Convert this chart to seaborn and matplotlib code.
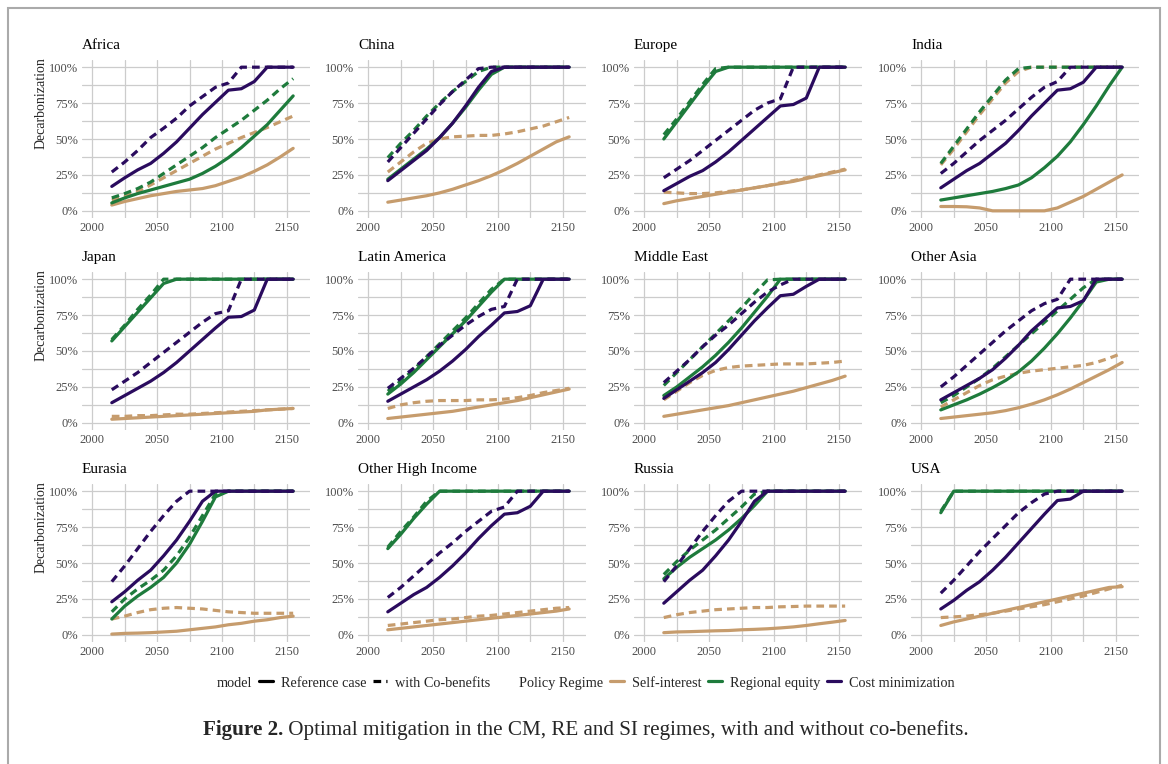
import matplotlib
matplotlib.use("Agg")
import matplotlib.pyplot as plt
from matplotlib.lines import Line2D
from matplotlib.patches import Rectangle
from matplotlib.ticker import PercentFormatter
import pandas as pd
import seaborn as sns

# ------------------------------------------------------------
# data, one value per decade 2015..2155
# ------------------------------------------------------------
YEARS = [2015, 2025, 2035, 2045, 2055, 2065, 2075, 2085, 2095, 2105, 2115, 2125, 2135, 2145, 2155]

REGIONS = ["Africa", "China", "Europe", "India",
           "Japan", "Latin America", "Middle East", "Other Asia",
           "Eurasia", "Other High Income", "Russia", "USA"]
REGIMES = ["Self-interest", "Regional equity", "Cost minimization"]
MODELS = ["Reference case", "with Co-benefits"]

# Africa
africa_si = [0.04, 0.065, 0.085, 0.105, 0.12, 0.135, 0.145, 0.155, 0.175, 0.205, 0.235, 0.275, 0.32, 0.375, 0.435]
africa_si_co = [0.075, 0.10, 0.135, 0.18, 0.23, 0.28, 0.33, 0.38, 0.43, 0.47, 0.51, 0.545, 0.58, 0.62, 0.66]
africa_re = [0.055, 0.09, 0.12, 0.145, 0.17, 0.195, 0.22, 0.26, 0.31, 0.37, 0.44, 0.52, 0.60, 0.70, 0.80]
africa_re_co = [0.09, 0.12, 0.155, 0.20, 0.26, 0.32, 0.38, 0.44, 0.51, 0.57, 0.63, 0.70, 0.77, 0.85, 0.92]
africa_cm = [0.17, 0.23, 0.285, 0.33, 0.40, 0.48, 0.575, 0.67, 0.755, 0.84, 0.85, 0.90, 1.0, 1.0, 1.0]
africa_cm_co = [0.27, 0.34, 0.42, 0.51, 0.575, 0.645, 0.73, 0.795, 0.86, 0.89, 1.0, 1.0, 1.0, 1.0, 1.0]

# China
china_si = [0.06, 0.075, 0.09, 0.105, 0.125, 0.15, 0.18, 0.21, 0.245, 0.285, 0.33, 0.38, 0.43, 0.48, 0.515]
china_si_co = [0.27, 0.34, 0.41, 0.47, 0.50, 0.515, 0.52, 0.525, 0.525, 0.535, 0.55, 0.57, 0.59, 0.62, 0.65]
china_re = [0.22, 0.29, 0.36, 0.43, 0.51, 0.61, 0.72, 0.84, 0.95, 1.0, 1.0, 1.0, 1.0, 1.0, 1.0]
china_re_co = [0.37, 0.47, 0.56, 0.66, 0.75, 0.83, 0.90, 0.97, 1.0, 1.0, 1.0, 1.0, 1.0, 1.0, 1.0]
china_cm = [0.21, 0.28, 0.35, 0.42, 0.51, 0.61, 0.73, 0.86, 0.97, 1.0, 1.0, 1.0, 1.0, 1.0, 1.0]
china_cm_co = [0.34, 0.44, 0.54, 0.64, 0.74, 0.83, 0.91, 0.99, 1.0, 1.0, 1.0, 1.0, 1.0, 1.0, 1.0]

# Europe
europe_si = [0.05, 0.07, 0.085, 0.10, 0.115, 0.13, 0.145, 0.16, 0.175, 0.19, 0.205, 0.225, 0.245, 0.265, 0.285]
europe_si_co = [0.13, 0.125, 0.12, 0.12, 0.125, 0.135, 0.145, 0.16, 0.175, 0.195, 0.21, 0.23, 0.25, 0.27, 0.29]
europe_re = [0.50, 0.62, 0.74, 0.86, 0.97, 1.0, 1.0, 1.0, 1.0, 1.0, 1.0, 1.0, 1.0, 1.0, 1.0]
europe_re_co = [0.53, 0.64, 0.76, 0.88, 0.99, 1.0, 1.0, 1.0, 1.0, 1.0, 1.0, 1.0, 1.0, 1.0, 1.0]
europe_cm = [0.14, 0.19, 0.24, 0.28, 0.34, 0.41, 0.49, 0.57, 0.65, 0.73, 0.74, 0.785, 1.0, 1.0, 1.0]
europe_cm_co = [0.23, 0.29, 0.35, 0.42, 0.49, 0.56, 0.63, 0.70, 0.75, 0.78, 1.0, 1.0, 1.0, 1.0, 1.0]

# India
india_si = [0.03, 0.03, 0.028, 0.02, 0.0, 0.0, 0.0, 0.0, 0.0, 0.02, 0.06, 0.10, 0.15, 0.20, 0.25]
india_si_co = [0.32, 0.43, 0.55, 0.67, 0.78, 0.89, 0.97, 1.0, 1.0, 1.0, 1.0, 1.0, 1.0, 1.0, 1.0]
india_re = [0.075, 0.09, 0.105, 0.12, 0.135, 0.155, 0.18, 0.23, 0.30, 0.38, 0.48, 0.60, 0.73, 0.87, 1.0]
india_re_co = [0.33, 0.45, 0.57, 0.69, 0.80, 0.91, 0.99, 1.0, 1.0, 1.0, 1.0, 1.0, 1.0, 1.0, 1.0]
india_cm = [0.16, 0.22, 0.28, 0.33, 0.40, 0.47, 0.56, 0.66, 0.75, 0.84, 0.85, 0.895, 1.0, 1.0, 1.0]
india_cm_co = [0.26, 0.33, 0.41, 0.49, 0.56, 0.63, 0.71, 0.79, 0.86, 0.90, 1.0, 1.0, 1.0, 1.0, 1.0]

# Japan
japan_si = [0.025, 0.03, 0.035, 0.04, 0.045, 0.05, 0.055, 0.06, 0.065, 0.07, 0.075, 0.08, 0.09, 0.095, 0.10]
japan_si_co = [0.045, 0.045, 0.05, 0.05, 0.055, 0.06, 0.06, 0.065, 0.07, 0.075, 0.08, 0.085, 0.09, 0.095, 0.10]
japan_re = [0.57, 0.67, 0.77, 0.87, 0.97, 1.0, 1.0, 1.0, 1.0, 1.0, 1.0, 1.0, 1.0, 1.0, 1.0]
japan_re_co = [0.58, 0.68, 0.79, 0.89, 1.0, 1.0, 1.0, 1.0, 1.0, 1.0, 1.0, 1.0, 1.0, 1.0, 1.0]
japan_cm = [0.14, 0.19, 0.24, 0.29, 0.35, 0.42, 0.50, 0.58, 0.66, 0.735, 0.74, 0.785, 1.0, 1.0, 1.0]
japan_cm_co = [0.23, 0.29, 0.35, 0.42, 0.49, 0.56, 0.63, 0.70, 0.76, 0.78, 1.0, 1.0, 1.0, 1.0, 1.0]

# Latin America
latam_si = [0.03, 0.04, 0.05, 0.06, 0.07, 0.08, 0.095, 0.11, 0.125, 0.14, 0.155, 0.175, 0.195, 0.215, 0.235]
latam_si_co = [0.10, 0.125, 0.14, 0.15, 0.155, 0.155, 0.155, 0.16, 0.16, 0.165, 0.175, 0.19, 0.21, 0.225, 0.24]
latam_re = [0.20, 0.27, 0.35, 0.44, 0.53, 0.62, 0.71, 0.81, 0.91, 1.0, 1.0, 1.0, 1.0, 1.0, 1.0]
latam_re_co = [0.22, 0.29, 0.37, 0.46, 0.55, 0.64, 0.73, 0.83, 0.93, 1.0, 1.0, 1.0, 1.0, 1.0, 1.0]
latam_cm = [0.15, 0.20, 0.25, 0.30, 0.36, 0.43, 0.51, 0.60, 0.68, 0.765, 0.775, 0.815, 1.0, 1.0, 1.0]
latam_cm_co = [0.24, 0.31, 0.38, 0.46, 0.54, 0.61, 0.68, 0.74, 0.79, 0.81, 1.0, 1.0, 1.0, 1.0, 1.0]

# Middle East
mideast_si = [0.045, 0.06, 0.075, 0.09, 0.105, 0.12, 0.14, 0.16, 0.18, 0.20, 0.22, 0.245, 0.27, 0.295, 0.325]
mideast_si_co = [0.16, 0.22, 0.28, 0.33, 0.365, 0.385, 0.395, 0.40, 0.405, 0.41, 0.41, 0.41, 0.415, 0.42, 0.43]
mideast_re = [0.19, 0.25, 0.32, 0.39, 0.47, 0.56, 0.66, 0.77, 0.88, 1.0, 1.0, 1.0, 1.0, 1.0, 1.0]
mideast_re_co = [0.26, 0.35, 0.44, 0.53, 0.62, 0.71, 0.80, 0.90, 0.995, 1.0, 1.0, 1.0, 1.0, 1.0, 1.0]
mideast_cm = [0.17, 0.23, 0.29, 0.35, 0.42, 0.51, 0.61, 0.71, 0.80, 0.885, 0.895, 0.95, 1.0, 1.0, 1.0]
mideast_cm_co = [0.28, 0.36, 0.44, 0.53, 0.61, 0.68, 0.76, 0.84, 0.91, 0.96, 1.0, 1.0, 1.0, 1.0, 1.0]

# Other Asia
othasia_si = [0.03, 0.04, 0.05, 0.06, 0.07, 0.085, 0.105, 0.13, 0.16, 0.195, 0.235, 0.28, 0.325, 0.37, 0.42]
othasia_si_co = [0.11, 0.16, 0.21, 0.26, 0.30, 0.325, 0.345, 0.36, 0.37, 0.38, 0.39, 0.40, 0.42, 0.45, 0.485]
othasia_re = [0.09, 0.125, 0.16, 0.20, 0.245, 0.295, 0.355, 0.43, 0.52, 0.62, 0.73, 0.85, 0.98, 1.0, 1.0]
othasia_re_co = [0.14, 0.19, 0.25, 0.31, 0.38, 0.46, 0.54, 0.62, 0.70, 0.78, 0.86, 0.94, 1.0, 1.0, 1.0]
othasia_cm = [0.16, 0.21, 0.26, 0.31, 0.37, 0.45, 0.54, 0.64, 0.72, 0.80, 0.81, 0.85, 1.0, 1.0, 1.0]
othasia_cm_co = [0.25, 0.32, 0.40, 0.48, 0.56, 0.64, 0.71, 0.78, 0.83, 0.86, 1.0, 1.0, 1.0, 1.0, 1.0]

# Eurasia
eurasia_si = [0.005, 0.01, 0.012, 0.015, 0.02, 0.025, 0.035, 0.045, 0.055, 0.07, 0.08, 0.095, 0.105, 0.12, 0.13]
eurasia_si_co = [0.11, 0.13, 0.155, 0.175, 0.185, 0.19, 0.185, 0.18, 0.17, 0.16, 0.155, 0.15, 0.15, 0.15, 0.15]
eurasia_re = [0.11, 0.20, 0.27, 0.33, 0.40, 0.50, 0.63, 0.79, 0.96, 1.0, 1.0, 1.0, 1.0, 1.0, 1.0]
eurasia_re_co = [0.16, 0.25, 0.32, 0.38, 0.45, 0.55, 0.68, 0.83, 0.98, 1.0, 1.0, 1.0, 1.0, 1.0, 1.0]
eurasia_cm = [0.23, 0.30, 0.38, 0.45, 0.55, 0.66, 0.79, 0.93, 1.0, 1.0, 1.0, 1.0, 1.0, 1.0, 1.0]
eurasia_cm_co = [0.37, 0.48, 0.60, 0.72, 0.83, 0.93, 1.0, 1.0, 1.0, 1.0, 1.0, 1.0, 1.0, 1.0, 1.0]

# Other High Income
ohi_si = [0.035, 0.045, 0.055, 0.065, 0.075, 0.085, 0.095, 0.105, 0.115, 0.125, 0.135, 0.145, 0.155, 0.165, 0.18]
ohi_si_co = [0.065, 0.075, 0.085, 0.095, 0.105, 0.11, 0.12, 0.13, 0.135, 0.145, 0.155, 0.165, 0.175, 0.185, 0.19]
ohi_re = [0.60, 0.70, 0.81, 0.91, 1.0, 1.0, 1.0, 1.0, 1.0, 1.0, 1.0, 1.0, 1.0, 1.0, 1.0]
ohi_re_co = [0.61, 0.72, 0.82, 0.93, 1.0, 1.0, 1.0, 1.0, 1.0, 1.0, 1.0, 1.0, 1.0, 1.0, 1.0]
ohi_cm = [0.16, 0.22, 0.28, 0.33, 0.40, 0.48, 0.57, 0.67, 0.76, 0.84, 0.85, 0.895, 1.0, 1.0, 1.0]
ohi_cm_co = [0.26, 0.33, 0.41, 0.49, 0.57, 0.64, 0.72, 0.79, 0.86, 0.89, 1.0, 1.0, 1.0, 1.0, 1.0]

# Russia
russia_si = [0.015, 0.02, 0.022, 0.025, 0.028, 0.03, 0.035, 0.038, 0.042, 0.048, 0.055, 0.065, 0.077, 0.088, 0.10]
russia_si_co = [0.12, 0.14, 0.155, 0.165, 0.175, 0.18, 0.185, 0.19, 0.19, 0.195, 0.197, 0.20, 0.20, 0.20, 0.20]
russia_re = [0.39, 0.47, 0.54, 0.60, 0.66, 0.73, 0.81, 0.90, 1.0, 1.0, 1.0, 1.0, 1.0, 1.0, 1.0]
russia_re_co = [0.42, 0.51, 0.59, 0.66, 0.73, 0.81, 0.89, 0.98, 1.0, 1.0, 1.0, 1.0, 1.0, 1.0, 1.0]
russia_cm = [0.22, 0.30, 0.38, 0.45, 0.55, 0.66, 0.79, 0.93, 1.0, 1.0, 1.0, 1.0, 1.0, 1.0, 1.0]
russia_cm_co = [0.37, 0.48, 0.60, 0.72, 0.83, 0.93, 1.0, 1.0, 1.0, 1.0, 1.0, 1.0, 1.0, 1.0, 1.0]

# USA
usa_si = [0.065, 0.09, 0.11, 0.13, 0.15, 0.17, 0.19, 0.21, 0.23, 0.25, 0.27, 0.29, 0.31, 0.33, 0.335]
usa_si_co = [0.12, 0.125, 0.13, 0.14, 0.15, 0.165, 0.18, 0.195, 0.21, 0.23, 0.25, 0.27, 0.295, 0.32, 0.345]
usa_re = [0.85, 1.0, 1.0, 1.0, 1.0, 1.0, 1.0, 1.0, 1.0, 1.0, 1.0, 1.0, 1.0, 1.0, 1.0]
usa_re_co = [0.86, 1.0, 1.0, 1.0, 1.0, 1.0, 1.0, 1.0, 1.0, 1.0, 1.0, 1.0, 1.0, 1.0, 1.0]
usa_cm = [0.18, 0.24, 0.31, 0.37, 0.45, 0.54, 0.64, 0.74, 0.84, 0.935, 0.945, 1.0, 1.0, 1.0, 1.0]
usa_cm_co = [0.29, 0.38, 0.48, 0.58, 0.67, 0.76, 0.85, 0.92, 0.98, 1.0, 1.0, 1.0, 1.0, 1.0, 1.0]

SERIES = {
    "Africa": [africa_si, africa_si_co, africa_re, africa_re_co, africa_cm, africa_cm_co],
    "China": [china_si, china_si_co, china_re, china_re_co, china_cm, china_cm_co],
    "Europe": [europe_si, europe_si_co, europe_re, europe_re_co, europe_cm, europe_cm_co],
    "India": [india_si, india_si_co, india_re, india_re_co, india_cm, india_cm_co],
    "Japan": [japan_si, japan_si_co, japan_re, japan_re_co, japan_cm, japan_cm_co],
    "Latin America": [latam_si, latam_si_co, latam_re, latam_re_co, latam_cm, latam_cm_co],
    "Middle East": [mideast_si, mideast_si_co, mideast_re, mideast_re_co, mideast_cm, mideast_cm_co],
    "Other Asia": [othasia_si, othasia_si_co, othasia_re, othasia_re_co, othasia_cm, othasia_cm_co],
    "Eurasia": [eurasia_si, eurasia_si_co, eurasia_re, eurasia_re_co, eurasia_cm, eurasia_cm_co],
    "Other High Income": [ohi_si, ohi_si_co, ohi_re, ohi_re_co, ohi_cm, ohi_cm_co],
    "Russia": [russia_si, russia_si_co, russia_re, russia_re_co, russia_cm, russia_cm_co],
    "USA": [usa_si, usa_si_co, usa_re, usa_re_co, usa_cm, usa_cm_co],
}

PALETTE = {"Self-interest": "#C69C6D", "Regional equity": "#1E7B3C", "Cost minimization": "#2A0B5E"}
DASHES = {"Reference case": "", "with Co-benefits": (2.4, 1.6)}

# long table for seaborn
rows = []
for region, lists in SERIES.items():
    k = 0
    for regime in REGIMES:
        for model in MODELS:
            for yr, v in zip(YEARS, lists[k]):
                rows.append((region, regime, model, yr, v))
            k += 1
df = pd.DataFrame(rows, columns=["region", "regime", "model", "year", "value"])

# ------------------------------------------------------------
# style
# ------------------------------------------------------------
sns.set_style("white")
plt.rcParams["font.family"] = ["Liberation Serif", "DejaVu Serif"]

W, H = 1168, 764
fig = plt.figure(figsize=(W / 100, H / 100), dpi=100)

GRID = "#CCCCCC"
col_left = [82, 358, 634, 911]
row_top = [60, 272, 484]
pw, ph = 228, 158

for i, region in enumerate(REGIONS):
    r, c = divmod(i, 4)
    ax = fig.add_axes([col_left[c] / W, 1 - (row_top[r] + ph) / H, pw / W, ph / H])
    sub = df[df["region"] == region]
    sns.lineplot(data=sub, x="year", y="value", hue="regime", style="model",
                 hue_order=REGIMES, style_order=MODELS, palette=PALETTE,
                 dashes=DASHES, linewidth=2.3, estimator=None, sort=False,
                 legend=False, ax=ax)

    ax.set_xlim(1992, 2168)
    ax.set_ylim(-0.05, 1.05)
    ax.set_xticks([2000, 2050, 2100, 2150])
    ax.set_xticks([2025, 2075, 2125], minor=True)
    ax.set_yticks([0, 0.25, 0.5, 0.75, 1.0])
    ax.set_yticks([0.125, 0.375, 0.625, 0.875], minor=True)
    ax.yaxis.set_major_formatter(PercentFormatter(1.0, decimals=0))
    ax.grid(which="both", color=GRID, linewidth=0.9)
    ax.set_axisbelow(True)
    ax.tick_params(which="both", length=0, labelsize=9, labelcolor="#4D4D4D", pad=3)
    for s in ax.spines.values():
        s.set_visible(False)
    ax.set_xlabel("")
    ax.set_ylabel("")
    ax.set_title(region, loc="left", fontsize=11, pad=8, color="black")
    if c == 0:
        ax.text(-0.178, 0.73, "Decarbonization", rotation=90, transform=ax.transAxes,
                ha="center", va="center", fontsize=10)

# legend
blank = Line2D([], [], color="none")
handles = [blank,
           Line2D([], [], color="black", lw=2.3),
           Line2D([], [], color="black", lw=2.3, dashes=(2.4, 1.6)),
           blank,
           Line2D([], [], color=PALETTE["Self-interest"], lw=2.3),
           Line2D([], [], color=PALETTE["Regional equity"], lw=2.3),
           Line2D([], [], color=PALETTE["Cost minimization"], lw=2.3)]
labels = ["model"] + MODELS + ["Policy Regime"] + REGIMES
fig.legend(handles, labels, loc="center", bbox_to_anchor=(0.492, 1 - 683 / H), ncol=7,
           frameon=False, fontsize=10.3, handlelength=1.0, handletextpad=0.55,
           columnspacing=0.45)

# caption
fig.canvas.draw()
rend = fig.canvas.get_renderer()
t1 = fig.text(0, 1 - 730 / H, "Figure 2.", fontsize=15.2, fontweight="bold", va="center")
t2 = fig.text(0, 1 - 730 / H, " Optimal mitigation in the CM, RE and SI regimes, with and without co-benefits.",
              fontsize=15.2, va="center")
w1 = t1.get_window_extent(rend).width
w2 = t2.get_window_extent(rend).width
x0 = 203
t1.set_x(x0 / W)
t2.set_x((x0 + w1) / W)

# page frame
fig.patches.append(Rectangle((8 / W, -0.02), (1160 - 8) / W, 1.02 - 8 / H, transform=fig.transFigure,
                             fill=False, edgecolor="#AAAAAA", linewidth=1.5))

fig.savefig("out.png", dpi=100)
